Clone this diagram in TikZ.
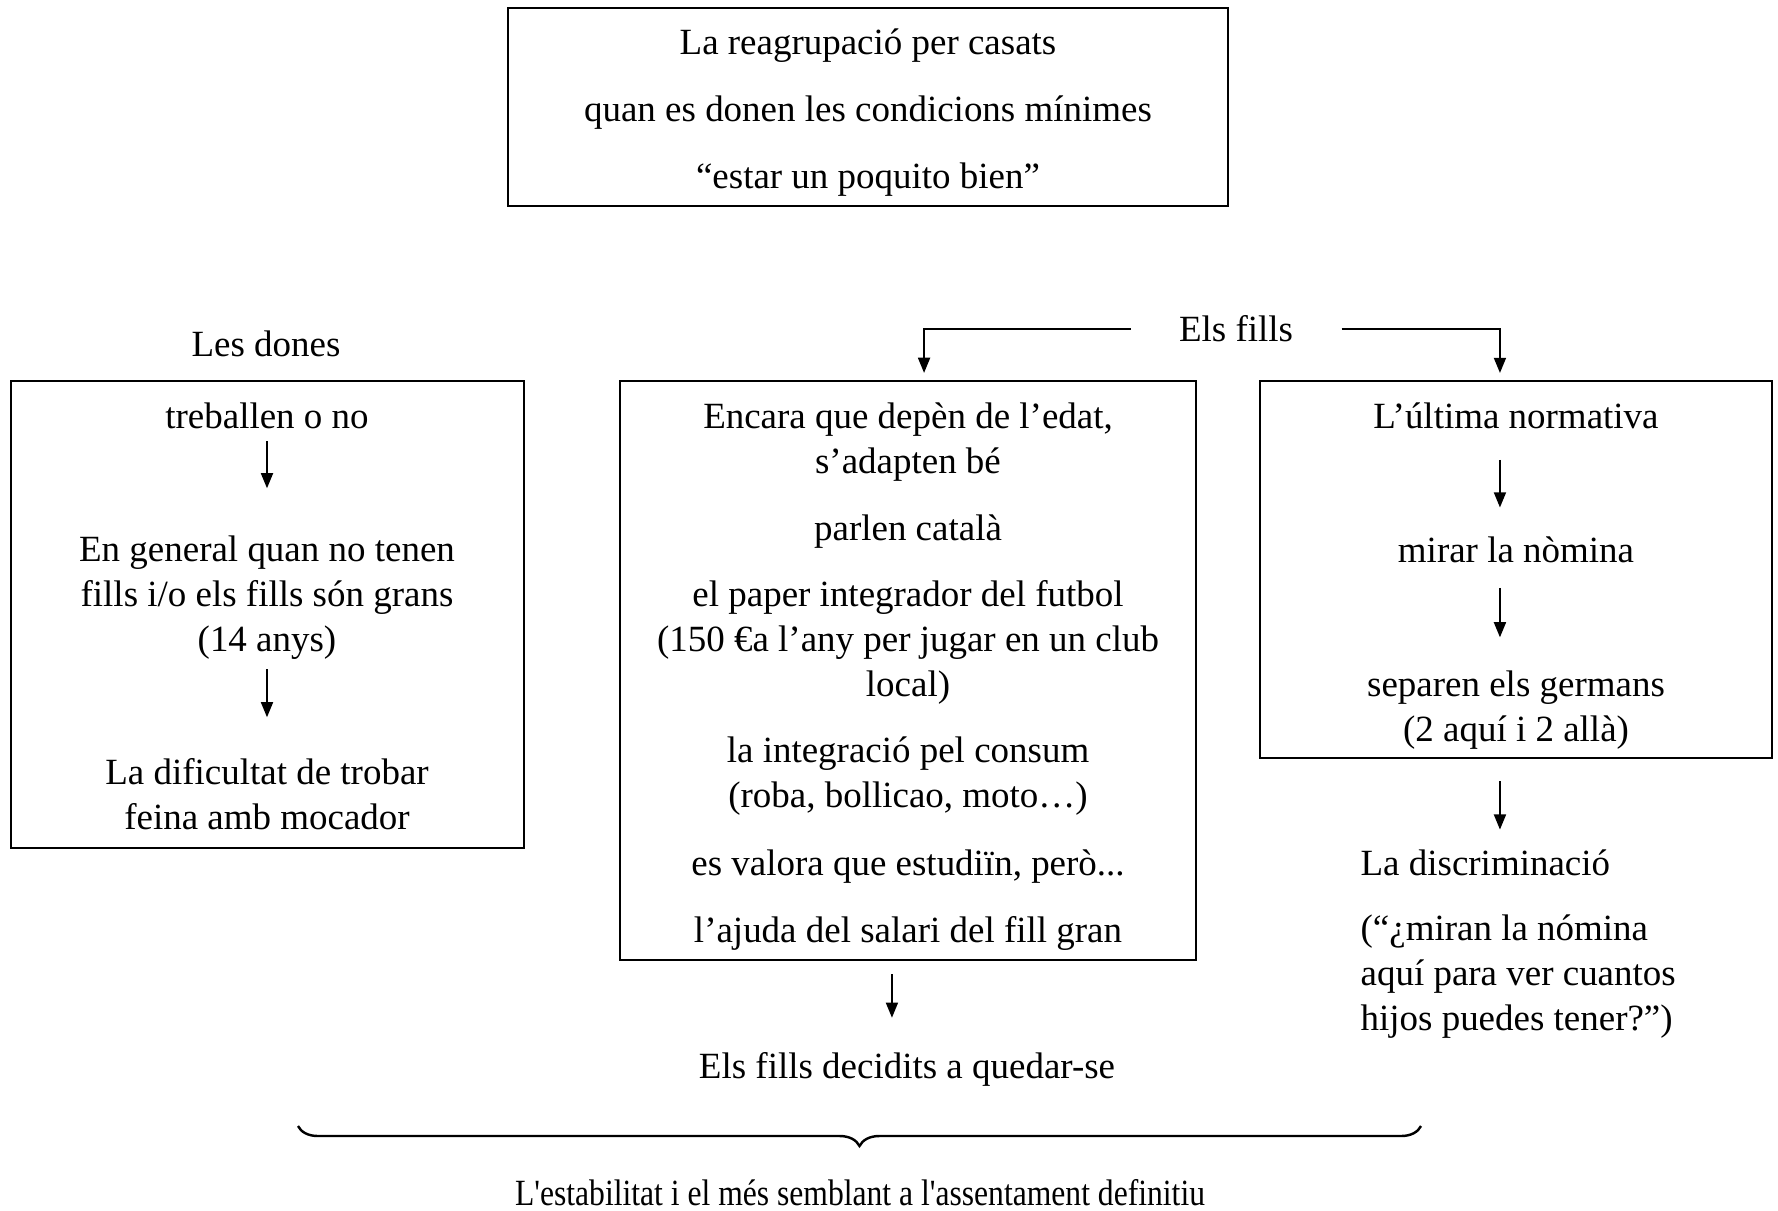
\documentclass[tikz,border=0pt]{standalone}
\usepackage{fontspec}
\usepackage{graphicx}
\setmainfont{Liberation Serif}
\usetikzlibrary{arrows.meta,decorations.pathreplacing}
\begin{document}
\begin{tikzpicture}[x=0.33pt,y=-0.33pt,
  txt/.style={inner sep=0pt, align=center, font=\fontsize{12.2}{14.85}\selectfont,
              execute at begin node={\rule{0pt}{9pt}},
              execute at end node={\rule[-3pt]{0pt}{3pt}}},
  frame/.style={draw, line width=0.75pt, inner sep=0pt},
  arr/.style={line width=0.5pt, -{Triangle[length=5pt,width=4pt]}}]
\useasboundingbox (0,0) rectangle (1778,1210);

% ---- frames ----
\node[frame, minimum width=237.6pt, minimum height=65.3pt] (topbox) at (868,107) {};
\node[frame, minimum width=169.3pt, minimum height=154.1pt] (lbox) at (267.5,614.5) {};
\node[frame, minimum width=190.1pt, minimum height=191.1pt] (mbox) at (908,670.5) {};
\node[frame, minimum width=169pt, minimum height=124.4pt] (rbox) at (1516,569.5) {};

% ---- heading box ----
\node[txt, font=\fontsize{12.2}{22.1}\selectfont] (head) at (868,113.5)
  {La reagrupació per casats\\quan es donen les condicions mínimes\\“estar un poquito bien”};

% ---- left column ----
\node[txt] (dones) at (266,347.5) {Les dones};
\node[txt] (treb) at (267,419.5) {treballen o no};
\node[txt] (gen) at (267,598.5) {En general quan no tenen\\fills i/o els fills són grans\\(14 anys)};
\node[txt] (dif) at (267,798.5) {La dificultat de trobar\\feina amb mocador};
\draw[arr, shorten <=0.9pt, shorten >=15.6pt] (treb) -- (gen);
\draw[arr, shorten <=2.5pt, shorten >=13.4pt] (gen) -- (dif);

% ---- children ----
\node[txt] (fills) at (1236,332.5) {Els fills};
\draw[arr] ([xshift=-15.8pt,yshift=1.1pt]fills.west) -| ([xshift=5.3pt,yshift=2.3pt]mbox.north);
\draw[arr] ([xshift=15.8pt,yshift=1.1pt]fills.east) -| ([xshift=-5.3pt,yshift=2.3pt]rbox.north);

% ---- middle column ----
\node[txt] (edat) at (908,442.5) {Encara que depèn de l’edat,\\s’adapten bé};
\node[txt] (cat) at (908,531.5) {parlen català};
\node[txt] (fut) at (908,643.5) {el paper integrador del futbol\\(150 €a l’any per jugar en un club\\local)};
\node[txt] (cons) at (908,776.5) {la integració pel consum\\(roba, bollicao, moto…)};
\node[txt] (est) at (908,866.5) {es valora que estudiïn, però...};
\node[txt] (sal) at (908,933.5) {l’ajuda del salari del fill gran};
\node[txt] (qued) at (907,1069.5) {Els fills decidits a quedar-se};
\draw[arr, shorten <=4.3pt, shorten >=10.9pt]
  ([xshift=-5.3pt]mbox.south) -- ([xshift=-5.3pt]mbox.south |- qued.north);

% ---- right column ----
\node[txt] (norm) at (1516,419.5) {L’última normativa};
\node[txt] (nom) at (1516,553.5) {mirar la nòmina};
\node[txt] (germ) at (1516,710.5) {separen els germans\\(2 aquí i 2 allà)};
\draw[arr, shorten <=7.1pt, shorten >=9pt]
  ([xshift=-5.3pt]norm.south) -- ([xshift=-5.3pt]nom.north);
\draw[arr, shorten <=5.1pt, shorten >=10.8pt]
  ([xshift=-5.3pt]nom.south) -- ([xshift=-5.3pt]germ.north);
\node[txt, anchor=west] (disc) at (1360,866.5) {La discriminació};
\node[txt, anchor=west, align=left] (quote) at (1360,977.5)
  {(“¿miran la nómina\\aquí para ver cuantos\\hijos puedes tener?”)};
\draw[arr, shorten <=7.3pt, shorten >=6pt]
  ([xshift=-5.3pt]rbox.south) -- ([xshift=-5.3pt]rbox.south |- disc.north);

% ---- closing brace and conclusion ----
\coordinate (bl) at (298,1126);
\coordinate (br) at (1421,1126);
\draw[decorate, decoration={brace, mirror, amplitude=6.6pt}, line width=0.8pt] (bl) -- (br);
\node[txt] (fin) at (860,1196)
  {\scalebox{0.855}[1]{L\textquotesingle estabilitat i el més semblant a l\textquotesingle assentament definitiu}};
\end{tikzpicture}
\end{document}
